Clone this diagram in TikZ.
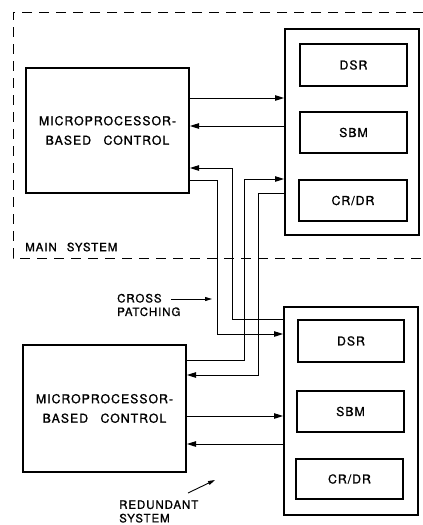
\documentclass[tikz,border=0pt]{standalone}
\usepackage{fontspec}
\setmainfont[LetterSpace=8,FakeBold=1.1]{TeX Gyre Heros}
\usetikzlibrary{arrows.meta}
\begin{document}
\begin{tikzpicture}[x=1pt,y=-1pt,
  ctl/.style={draw,line width=2pt,inner sep=0pt,align=center,font=\fontsize{12.3}{19.5}\selectfont},
  outer/.style={draw,line width=2pt,inner sep=0pt},
  inner/.style={draw,line width=1.2pt,inner sep=0pt,font=\fontsize{12.3}{14}\selectfont},
  wire/.style={line width=1pt},
  arr/.style={wire,-{Triangle[length=9pt,width=5.5pt]}},
  smallarr/.style={line width=0.9pt,-{Triangle[length=7pt,width=4pt]}},
  lbl/.style={align=left,anchor=west,inner sep=0pt,font=\fontsize{11.5}{13.5}\selectfont},
  sysbox/.style={line width=0.9pt,dash pattern=on 10pt off 7pt}]
\useasboundingbox[fill=white] (0,0) rectangle (423,525);
% main system boundary
\draw[sysbox] (423,12) -- (13,12) -- (13,258) -- (423,258);
\node[lbl] (mainlbl) at (25,247) {MAIN\hspace{6pt} SYSTEM};
% top
\node[ctl,minimum width=163pt,minimum height=125pt] (ctlA) at (107.5,130.5) {MICROPROCESSOR-\\BASED\hspace{8pt} CONTROL};
\node[outer,minimum width=134pt,minimum height=206pt] (outA) at (352,132) {};
\node[inner,minimum width=107pt,minimum height=42pt] (dsrA) at (353.5,65) {DSR};
\node[inner,minimum width=107pt,minimum height=41pt] (sbmA) at (353.5,132.5) {SBM};
\node[inner,minimum width=108pt,minimum height=41pt] (crA) at (353,200.5) {CR/DR};
% bottom
\node[ctl,minimum width=163pt,minimum height=127pt] (ctlB) at (104.5,408.5) {MICROPROCESSOR-\\BASED\hspace{8pt} CONTROL};
\node[outer,minimum width=134pt,minimum height=208pt] (outB) at (351,411) {};
\node[inner,minimum width=106pt,minimum height=42pt] (dsrB) at (351,341) {DSR};
\node[inner,minimum width=107pt,minimum height=41pt] (sbmB) at (350.5,411.5) {SBM};
\node[inner,minimum width=107pt,minimum height=40pt] (crB) at (349.5,479) {CR/DR};
% wires top
\draw[arr] (ctlA.east |- 0,98) -- (outA.west |- 0,98);
\draw[arr] (outA.west |- 0,126) -- (ctlA.east |- 0,126);
% cross patching
\draw[arr] (outB.west |- 0,319) -- (232,319) -- (232,168) -- (ctlA.east |- 0,168);
\draw[arr] (ctlA.east |- 0,180) -- (217,180) -- (217,334) -- (outB.west |- 0,334);
\draw[arr] (ctlB.east |- 0,360) -- (244,360) -- (244,179) -- (outA.west |- 0,179);
\draw[arr] (outA.west |- 0,193) -- (258,193) -- (258,375) -- (ctlB.east |- 0,375);
% wires bottom
\draw[arr] (ctlB.east |- 0,416) -- (outB.west |- 0,416);
\draw[arr] (outB.west |- 0,444) -- (ctlB.east |- 0,444);
% labels
\node[lbl] (crosslbl) at (117,305) {CROSS\\PATCHING};
\coordinate (crossend) at (212,299);
\draw[smallarr] (171,299) -- (crossend);
\node[lbl] (redlbl) at (119,511.5) {REDUNDANT\\SYSTEM};
\coordinate (redend) at (215,480);
\draw[smallarr] (188,493) -- (redend);
\end{tikzpicture}
\end{document}
